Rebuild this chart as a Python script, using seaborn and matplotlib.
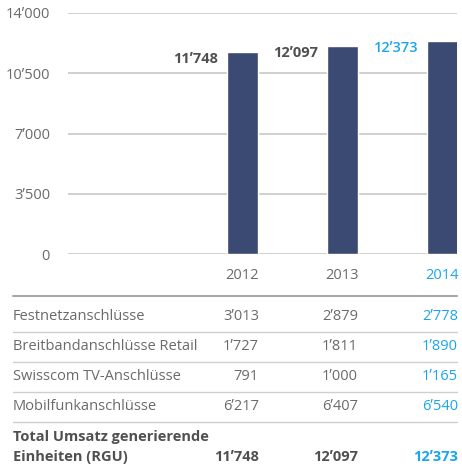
import matplotlib
matplotlib.use("Agg")
import matplotlib.pyplot as plt
import seaborn as sns
import pandas as pd
from matplotlib.lines import Line2D

# --- data ---
years = ["2012", "2013", "2014"]
totals = [11748, 12097, 12373]
row_labels = ["Festnetzanschlüsse", "Breitbandanschlüsse Retail",
              "Swisscom TV-Anschlüsse", "Mobilfunkanschlüsse"]
festnetz = [3013, 2879, 2778]
breitband = [1727, 1811, 1890]
swisscom_tv = [791, 1000, 1165]
mobilfunk = [6217, 6407, 6540]
yticks = [0, 3500, 7000, 10500, 14000]

BAR = "#3b4a72"
GREY = "#505050"
LIGHT = "#6a6a6a"
BLUE = "#1aa6ee"
FS = 10.5


def fmt(v):
    # modifier apostrophe avoids the 7-quote kerning pair
    return f"{v:,}".replace(",", "\u02bc")


W, H = 462, 470
sns.set_theme(style="white")
plt.rcParams["font.family"] = ["Open Sans", "DejaVu Sans"]

fig = plt.figure(figsize=(W / 100, H / 100), dpi=100)


def fx(px):
    return px / W


def fy(py):
    return 1 - py / H


# --- bar chart ---
ax = fig.add_axes([fx(68), fy(254), fx(457) - fx(68), fy(13) - fy(254)])
df = pd.DataFrame({"year": years, "total": totals})
sns.barplot(data=df, x="year", y="total", color=BAR, width=0.31,
            saturation=1, ax=ax, zorder=3)
ax.set_xlim(-1.74, 2.15)
ax.set_ylim(0, 14000)
ax.set_yticks(yticks)
ax.set_yticklabels([fmt(t) for t in yticks])
ax.yaxis.grid(True, color="#c8c8c8", lw=1.2, zorder=0)
ax.set_axisbelow(True)
for s in ax.spines.values():
    s.set_visible(False)
ax.tick_params(axis="y", length=0, pad=13, labelsize=FS, labelcolor=LIGHT)
ax.tick_params(axis="x", length=0, pad=10, labelsize=FS, labelcolor=LIGHT)
ax.get_xticklabels()[-1].set_color(BLUE)
ax.set_xlabel("")
ax.set_ylabel("")

for i, v in enumerate(totals):
    c = BLUE if i == len(totals) - 1 else GREY
    ax.annotate(fmt(v), xy=(i - 0.155, v), xytext=(-6, -5),
                textcoords="offset points", ha="right", va="center",
                fontsize=FS, fontweight="bold" if i < 2 else "semibold",
                color=c)

# --- table below ---
col_right = [259, 358, 458]
row_y = [317, 347, 377, 407]
rows = [festnetz, breitband, swisscom_tv, mobilfunk]

fig.add_artist(Line2D([fx(13), fx(457)], [fy(296), fy(296)],
                      color="#a8a8a8", lw=1.5))
for py in [332, 362, 392, 422]:
    fig.add_artist(Line2D([fx(13), fx(457)], [fy(py), fy(py)],
                          color="#cfcfcf", lw=1))

for label, vals, py in zip(row_labels, rows, row_y):
    fig.text(fx(13), fy(py), label, ha="left", va="center",
             fontsize=FS, color=LIGHT)
    for j, v in enumerate(vals):
        c = BLUE if j == 2 else LIGHT
        fig.text(fx(col_right[j]), fy(py), fmt(v), ha="right",
                 va="center", fontsize=FS, color=c)

fig.text(fx(13), fy(437), "Total Umsatz generierende", ha="left",
         va="center", fontsize=FS, fontweight="bold", color=GREY)
fig.text(fx(13), fy(457), "Einheiten (RGU)", ha="left", va="center",
         fontsize=FS, fontweight="bold", color=GREY)
for j, v in enumerate(totals):
    c = BLUE if j == 2 else GREY
    fig.text(fx(col_right[j]), fy(457), fmt(v), ha="right", va="center",
             fontsize=FS, fontweight="bold", color=c)

fig.savefig("out.png", dpi=100)
